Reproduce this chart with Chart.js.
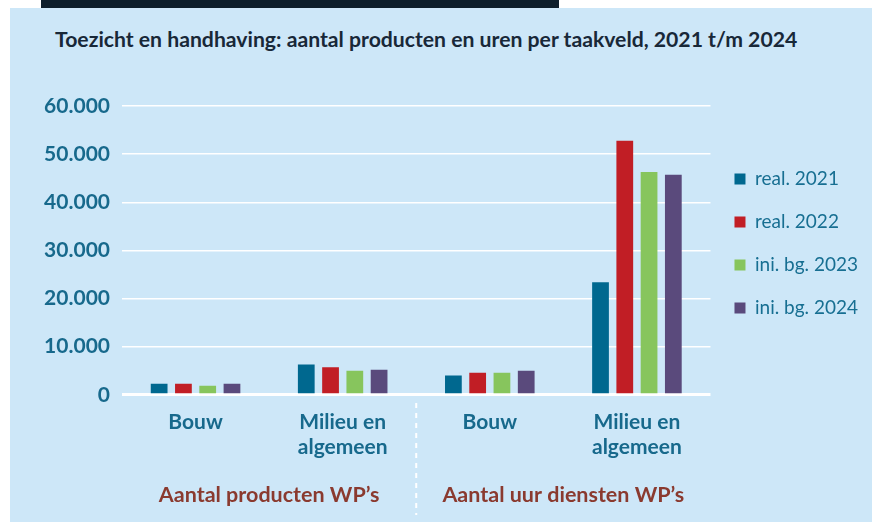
<!DOCTYPE html>
<html>
<head>
<meta charset="utf-8">
<script src="https://cdn.jsdelivr.net/npm/chart.js@4"></script>
<style>
  html, body { margin: 0; padding: 0; background: #fff; }
  #wrap { position: relative; width: 872px; height: 522px; overflow: hidden; }
  #topbar { position: absolute; left: 41px; top: 0; width: 518px; height: 8px; background: #0d1e2b; }
  #panel { position: absolute; left: 10px; top: 8px; right: 0; bottom: 0; background: #cde7f8; }
  #title { position: absolute; left: 55px; top: 26px; line-height: 24px; white-space: nowrap;
           font: bold 21.2px Lato, "Open Sans", sans-serif; color: #182838; }
  #chart { position: absolute; left: 0; top: 0; }
</style>
</head>
<body>
<div id="wrap">
  <div id="topbar"></div>
  <div id="panel"></div>
  <div id="title">Toezicht en handhaving: aantal producten en uren per taakveld, 2021 t/m 2024</div>
  <canvas id="chart" width="872" height="522"></canvas>
</div>
<script>
const categories = [['Bouw'], ['Milieu en', 'algemeen'], ['Bouw'], ['Milieu en', 'algemeen']];
const groupLabels = ['Aantal producten WP\u2019s', 'Aantal uur diensten WP\u2019s'];
const yTickValues = [0, 10000, 20000, 30000, 40000, 50000, 60000];

const real2021 = [2300, 6300, 4000, 23400];
const real2022 = [2300, 5700, 4600, 52800];
const ini2023 = [1900, 5000, 4600, 46300];
const ini2024 = [2300, 5200, 5000, 45700];

const seriesNames = ['real. 2021', 'real. 2022', 'ini. bg. 2023', 'ini. bg. 2024'];
const seriesColors = ['#00688f', '#c11e25', '#87c55d', '#5a4a7c'];

const teal = '#17698c';
const fontFamily = 'Lato, "Open Sans", sans-serif';

function fmt(v) {
    return String(v).replace(/\B(?=(\d{3})+(?!\d))/g, '.');
}

// dashed divider between the two groups, below the x axis
const dividerPlugin = {
    id: 'divider',
    afterLayout(chart) {
        // legend sits a bit higher than the centred default
        chart.legend.top -= 7;
        chart.legend.bottom -= 7;
    },
    afterDraw(chart) {
        const x = chart.scales.x;
        const xm = (x.getPixelForValue(1) + x.getPixelForValue(2)) / 2;
        const ctx = chart.ctx;
        ctx.save();
        ctx.strokeStyle = '#ffffff';
        ctx.lineWidth = 2;
        ctx.setLineDash([5, 5]);
        ctx.beginPath();
        ctx.moveTo(xm, 403);
        ctx.lineTo(xm, 515);
        ctx.stroke();
        ctx.restore();
    }
};

const ctx = document.getElementById('chart').getContext('2d');
const data = {
    labels: categories,
    datasets: [real2021, real2022, ini2023, ini2024].map((vals, i) => ({
        label: seriesNames[i],
        data: vals,
        backgroundColor: seriesColors[i],
        borderWidth: 0,
        categoryPercentage: 0.66,
        barPercentage: 0.69
    }))
};

new Chart(ctx, {
    type: 'bar',
    data: data,
    plugins: [dividerPlugin],
    options: {
        responsive: false,
        animation: false,
        layout: {
            padding: { left: 44, right: 4, top: 106, bottom: 8 }
        },
        plugins: {
            legend: {
                position: 'right',
                align: 'center',
                fullSize: false,
                labels: {
                    boxWidth: 11,
                    boxHeight: 11,
                    padding: 24,
                    color: '#176f92',
                    font: { family: fontFamily, size: 19 }
                }
            },
            tooltip: { enabled: false }
        },
        scales: {
            x: {
                grid: { display: false, drawTicks: false },
                border: { display: false },
                ticks: {
                    color: teal,
                    padding: 15,
                    maxRotation: 0,
                    font: { family: fontFamily, size: 21, weight: 'bold', lineHeight: 1.2 }
                }
            },
            x2: {
                type: 'category',
                labels: groupLabels,
                position: 'bottom',
                grid: { display: false, drawTicks: false },
                border: { display: false },
                ticks: {
                    color: '#8a3a2f',
                    padding: 6.5,
                    maxRotation: 0,
                    font: { family: fontFamily, size: 21.5, weight: 'bold', lineHeight: 1.2 }
                }
            },
            y: {
                min: 0,
                max: 60000,
                afterFit(scale) { scale.width = 78; },
                afterBuildTicks(scale) { scale.ticks = yTickValues.map(v => ({ value: v })); },
                grid: {
                    color: '#ffffff',
                    drawTicks: false,
                    lineWidth: c => (c.tick && c.tick.value === 0 ? 3 : 1.5)
                },
                border: { display: false },
                ticks: {
                    color: teal,
                    padding: 12,
                    font: { family: fontFamily, size: 21, weight: 'bold' },
                    callback: v => fmt(v)
                }
            }
        }
    }
});
</script>
</body>
</html>
